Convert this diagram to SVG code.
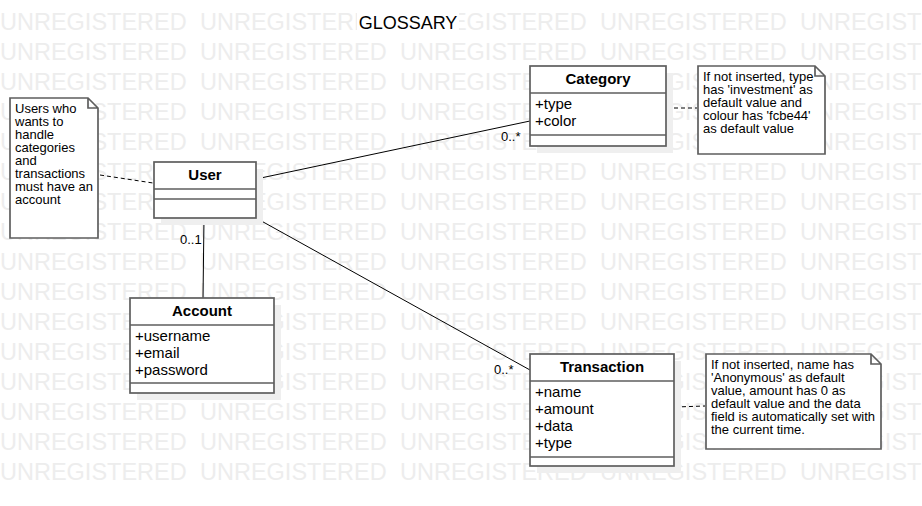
<svg xmlns="http://www.w3.org/2000/svg" xmlns:xlink="http://www.w3.org/1999/xlink" width="922" height="506" viewBox="0 0 922 506">
<style>
.wm{font-family:"Liberation Sans",Arial,sans-serif;font-size:23.5px;fill:#ededed}
.box{fill:#fff;stroke:#5e5e5e;stroke-width:1.7}
.sh{fill:#efefef}
.sep{stroke:#5e5e5e;stroke-width:1.7}
.name{font-family:"Liberation Sans",Arial,sans-serif;font-size:15px;font-weight:bold;text-anchor:middle;fill:#000}
.attr{font-family:"Liberation Sans",Arial,sans-serif;font-size:15px;fill:#000}
.note{font-family:"Liberation Sans",Arial,sans-serif;font-size:13px;fill:#000}
.lbl{font-family:"Liberation Sans",Arial,sans-serif;font-size:13px;fill:#000}
.assoc{stroke:#000;stroke-width:1;fill:none}
.dash{stroke:#000;stroke-width:1;stroke-dasharray:4 3;fill:none}
</style>
<defs>
<text id="wm" class="wm"><tspan x="0">UNREGISTERED</tspan><tspan x="200">UNREGISTERED</tspan><tspan x="400">UNREGISTERED</tspan><tspan x="600">UNREGISTERED</tspan><tspan x="800">UNREGISTERED</tspan></text>
</defs>
<rect width="922" height="506" fill="#fff"/>
<g id="watermark">
<use xlink:href="#wm" y="30"/><use xlink:href="#wm" y="60"/><use xlink:href="#wm" y="90"/><use xlink:href="#wm" y="120"/>
<use xlink:href="#wm" y="150"/><use xlink:href="#wm" y="180"/><use xlink:href="#wm" y="210"/><use xlink:href="#wm" y="240"/>
<use xlink:href="#wm" y="270"/><use xlink:href="#wm" y="300"/><use xlink:href="#wm" y="330"/><use xlink:href="#wm" y="360"/>
<use xlink:href="#wm" y="390"/><use xlink:href="#wm" y="420"/><use xlink:href="#wm" y="450"/><use xlink:href="#wm" y="480"/>
</g>
<g id="title">
<rect x="357" y="12" width="102" height="22" fill="#fff"/>
<text x="408" y="29" font-family="Liberation Sans, Arial, sans-serif" font-size="18" text-anchor="middle">GLOSSARY</text>
</g>
<g id="connectors">
<line class="assoc" x1="256" y1="179" x2="530" y2="121"/>
<line class="assoc" x1="204" y1="218" x2="203" y2="298"/>
<line class="assoc" x1="256" y1="218" x2="530" y2="370"/>
<line class="dash" x1="100" y1="175" x2="153" y2="183"/>
<line class="dash" x1="667" y1="108" x2="697" y2="108"/>
<line class="dash" x1="675" y1="407" x2="705" y2="406"/>
<text class="lbl" x="501" y="141">0..*</text>
<text class="lbl" x="180" y="244">0..1</text>
<text class="lbl" x="494" y="374">0..*</text>
</g>
<g id="User">
<rect class="sh" x="161" y="169" width="102" height="56"/>
<rect class="box" x="154" y="162" width="102" height="56"/>
<line class="sep" x1="154" y1="189" x2="256" y2="189"/>
<line class="sep" x1="154" y1="199" x2="256" y2="199"/>
<text class="name" x="205" y="180">User</text>
</g>
<g id="Category">
<rect class="sh" x="537" y="73" width="136" height="80"/>
<rect class="box" x="530" y="66" width="136" height="80"/>
<line class="sep" x1="530" y1="93" x2="666" y2="93"/>
<line class="sep" x1="530" y1="135" x2="666" y2="135"/>
<text class="name" x="598" y="84">Category</text>
<text class="attr" x="535" y="109">+type</text>
<text class="attr" x="535" y="126">+color</text>
</g>
<g id="Account">
<rect class="sh" x="137" y="305" width="144" height="95"/>
<rect class="box" x="130" y="298" width="144" height="95"/>
<line class="sep" x1="130" y1="325" x2="274" y2="325"/>
<line class="sep" x1="130" y1="383" x2="274" y2="383"/>
<text class="name" x="202" y="316">Account</text>
<text class="attr" x="135" y="341">+username</text>
<text class="attr" x="135" y="358">+email</text>
<text class="attr" x="135" y="375">+password</text>
</g>
<g id="Transaction">
<rect class="sh" x="537" y="361" width="144" height="112"/>
<rect class="box" x="530" y="354" width="144" height="112"/>
<line class="sep" x1="530" y1="381" x2="674" y2="381"/>
<line class="sep" x1="530" y1="457" x2="674" y2="457"/>
<text class="name" x="602" y="372">Transaction</text>
<text class="attr" x="535" y="397">+name</text>
<text class="attr" x="535" y="414">+amount</text>
<text class="attr" x="535" y="431">+data</text>
<text class="attr" x="535" y="448">+type</text>
</g>
<g id="NoteUser">
<path class="box" d="M10,98 H88 L98,108 V238 H10 Z M88,98 V108 H98"/>
<text class="note"><tspan x="15" y="113">Users who</tspan><tspan x="15" y="126">wants to</tspan><tspan x="15" y="139">handle</tspan><tspan x="15" y="152">categories</tspan><tspan x="15" y="165">and</tspan><tspan x="15" y="178">transactions</tspan><tspan x="15" y="191">must have an</tspan><tspan x="15" y="204">account</tspan></text>
</g>
<g id="NoteCategory">
<path class="box" d="M698,66 H815 L825,76 V154 H698 Z M815,66 V76 H825"/>
<text class="note"><tspan x="703" y="81">If not inserted, type</tspan><tspan x="703" y="94">has 'investment' as</tspan><tspan x="703" y="107">default value and</tspan><tspan x="703" y="120">colour has 'fcbe44'</tspan><tspan x="703" y="133">as default value</tspan></text>
</g>
<g id="NoteTransaction">
<path class="box" d="M706,354 H871 L881,364 V449 H706 Z M871,354 V364 H881"/>
<text class="note"><tspan x="711" y="369">If not inserted, name has</tspan><tspan x="711" y="382">'Anonymous' as default</tspan><tspan x="711" y="395">value, amount has 0 as</tspan><tspan x="711" y="408">default value and the data</tspan><tspan x="711" y="421">field is automatically set with</tspan><tspan x="711" y="434">the current time.</tspan></text>
</g>
</svg>
